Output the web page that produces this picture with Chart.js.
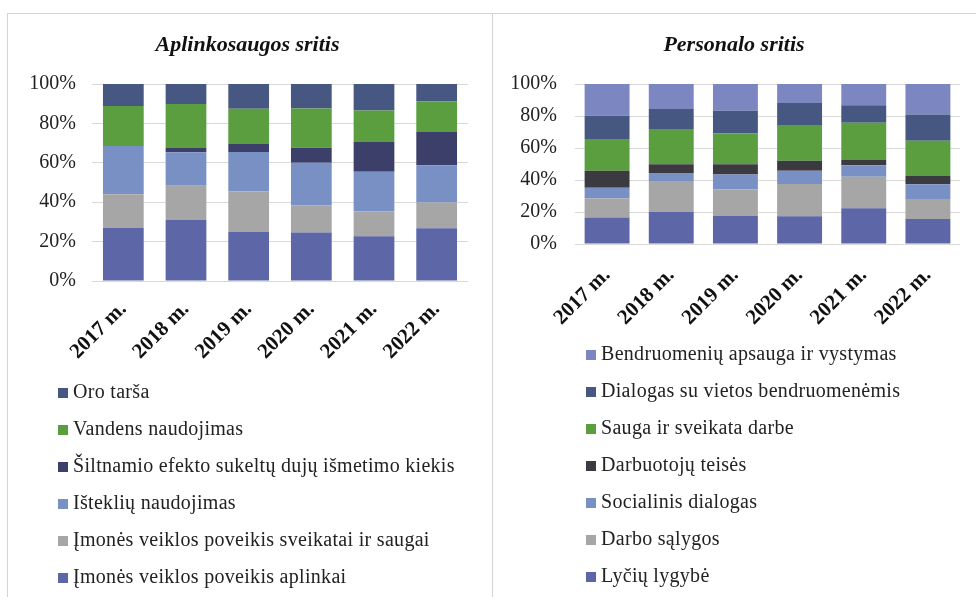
<!DOCTYPE html>
<html>
<head>
<meta charset="utf-8">
<script src="https://cdn.jsdelivr.net/npm/chart.js@4/dist/chart.umd.min.js"></script>
<style>
  body { margin: 0; background: #fff; width: 976px; height: 597px; overflow: hidden; position: relative; }
  .frame { position: absolute; left: 7px; top: 13px; width: 1000px; height: 700px; border: 1px solid #d4d4d4; box-sizing: border-box; }
  .divider { position: absolute; left: 492px; top: 13px; width: 1px; height: 600px; background: #d4d4d4; }
  .box { position: absolute; }
  .legend { position: absolute; margin: 0; padding: 0; list-style: none; font-family: 'Liberation Serif', 'Times New Roman', serif; font-size: 20px; letter-spacing: 0.3px; color: #222; }
  .legend li { height: 37px; line-height: 37px; white-space: nowrap; }
  .legend span { display: inline-block; width: 10px; height: 10px; margin-right: 5px; vertical-align: 0px; }
</style>
</head>
<body>
<div class="frame"></div>
<div class="divider"></div>
<div class="box" style="left:7px;top:13px;width:485px;height:365px;"><canvas id="envChart"></canvas></div>
<div class="box" style="left:492px;top:13px;width:484px;height:335px;"><canvas id="hrChart"></canvas></div>
<ul class="legend" id="envLegend" style="left:58px;top:373px;"></ul>
<ul class="legend" id="hrLegend" style="left:586px;top:335px;"></ul>

<script>
// metai
const years = ['2017 m.', '2018 m.', '2019 m.', '2020 m.', '2021 m.', '2022 m.'];
const yTicks = [0, 20, 40, 60, 80, 100];

// Aplinkosaugos sritis (nuo apačios į viršų), %
const aplinkai   = [27, 31, 25, 24.6, 22.7, 26.8];
const sveikatai  = [17, 17.3, 20.4, 13.9, 12.7, 13];
const istekliai  = [24.5, 17, 20.1, 21.5, 20, 19];
const siltnamio  = [0, 2.5, 4.1, 7.6, 15.1, 16.8];
const vandens    = [20.3, 22.1, 17.8, 20, 16.1, 15.6];
const oroTarsa   = [11.2, 10.3, 12.7, 12.4, 13.4, 8.8];

// Personalo sritis (nuo apačios į viršų), %
const lyciu        = [16.5, 20.2, 17.7, 17.3, 22.3, 15.6];
const salygos      = [12, 19.2, 16.3, 20.2, 19.8, 12.5];
const socialinis   = [6.7, 5, 9.5, 8.3, 7.1, 9.2];
const darbuotoju   = [10.6, 5.4, 6.3, 6.3, 3.3, 5.2];
const sauga        = [19.8, 22.1, 19.4, 22.3, 23.3, 22.1];
const dialogas     = [14.6, 12.5, 14.1, 13.7, 10.9, 16.4];
const bendruomeniu = [19.8, 15.6, 16.7, 11.9, 13.3, 19];

const serif = "'Liberation Serif', 'Times New Roman', serif";

function buildOptions(title, padLeft, yWidth, yPad, xHeight, xPad, padRight, barPct) {
    return {
        responsive: true,
        maintainAspectRatio: false,
        animation: false,
        layout: { padding: { left: padLeft, right: padRight, top: 0, bottom: 0 } },
        datasets: { bar: { barPercentage: barPct, categoryPercentage: 1 } },
        plugins: {
            legend: { display: false },
            tooltip: { enabled: false },
            title: {
                display: true,
                text: title,
                color: '#111',
                font: { family: serif, size: 22, weight: 'bold', style: 'italic' },
                padding: { top: 18.8, bottom: 25.8 }
            }
        },
        scales: {
            x: {
                stacked: true,
                grid: { display: false },
                border: { display: false },
                ticks: {
                    color: '#111',
                    maxRotation: 45,
                    minRotation: 45,
                    padding: xPad,
                    font: { family: serif, size: 21, weight: 'bold' }
                },
                afterFit: function(s) { s.height = xHeight; }
            },
            y: {
                stacked: true,
                min: 0,
                max: 100,
                afterBuildTicks: function(s) { s.ticks = yTicks.map(v => ({ value: v })); },
                grid: { color: '#d9d9d9', drawTicks: false },
                border: { display: false },
                ticks: {
                    color: '#222',
                    padding: yPad,
                    font: { family: serif, size: 20 },
                    callback: v => v + '%'
                },
                afterFit: function(s) { s.width = yWidth; }
            }
        }
    };
}

const envChart = new Chart(document.getElementById('envChart').getContext('2d'), {
    type: 'bar',
    data: {
        labels: years,
        datasets: [
            { label: 'Įmonės veiklos poveikis aplinkai', data: aplinkai, backgroundColor: '#5d66a6' },
            { label: 'Įmonės veiklos poveikis sveikatai ir saugai', data: sveikatai, backgroundColor: '#a6a6a6' },
            { label: 'Išteklių naudojimas', data: istekliai, backgroundColor: '#7990c4' },
            { label: 'Šiltnamio efekto sukeltų dujų išmetimo kiekis', data: siltnamio, backgroundColor: '#3c3f6a' },
            { label: 'Vandens naudojimas', data: vandens, backgroundColor: '#5a9e40' },
            { label: 'Oro tarša', data: oroTarsa, backgroundColor: '#465882' }
        ]
    },
    options: buildOptions('Aplinkosaugos sritis', 20, 65, 16, 97, 8, 24, 0.65)
});

const hrChart = new Chart(document.getElementById('hrChart').getContext('2d'), {
    type: 'bar',
    data: {
        labels: years,
        datasets: [
            { label: 'Lyčių lygybė', data: lyciu, backgroundColor: '#5d66a6' },
            { label: 'Darbo sąlygos', data: salygos, backgroundColor: '#a6a6a6' },
            { label: 'Socialinis dialogas', data: socialinis, backgroundColor: '#7990c4' },
            { label: 'Darbuotojų teisės', data: darbuotoju, backgroundColor: '#3a3a40' },
            { label: 'Sauga ir sveikata darbe', data: sauga, backgroundColor: '#5a9e40' },
            { label: 'Dialogas su vietos bendruomenėmis', data: dialogas, backgroundColor: '#465882' },
            { label: 'Bendruomenių apsauga ir vystymas', data: bendruomeniu, backgroundColor: '#7c86c0' }
        ]
    },
    options: buildOptions('Personalo sritis', 16, 67, 18, 104, 11, 16, 0.7)
});

// legenda (atvirkštine tvarka, kaip originale)
function fillLegend(chart, id) {
    const items = Chart.defaults.plugins.legend.labels.generateLabels(chart).reverse();
    const ul = document.getElementById(id);
    items.forEach(it => {
        const li = document.createElement('li');
        const box = document.createElement('span');
        box.style.background = it.fillStyle;
        li.appendChild(box);
        li.appendChild(document.createTextNode(it.text));
        ul.appendChild(li);
    });
}
fillLegend(envChart, 'envLegend');
fillLegend(hrChart, 'hrLegend');
</script>
</body>
</html>
